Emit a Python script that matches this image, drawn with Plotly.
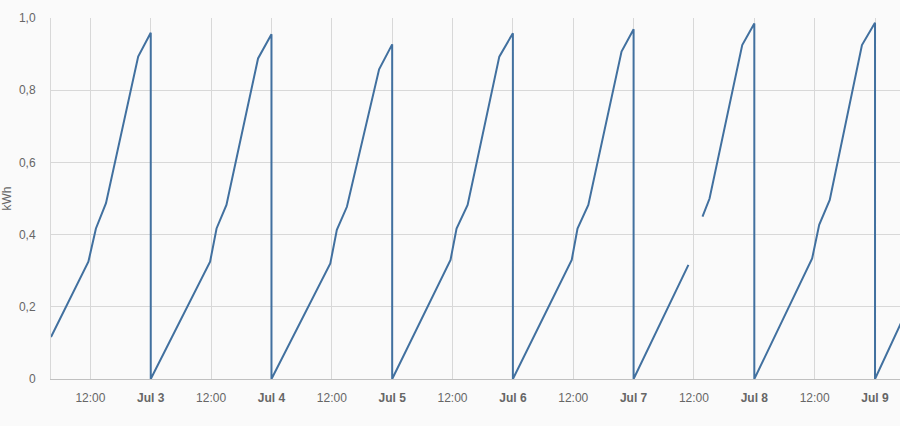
import plotly.graph_objects as go

# --- data ---
times = [
    "2023-07-02 04:10", "2023-07-02 11:36", "2023-07-02 13:06", "2023-07-02 15:06", "2023-07-02 21:30", "2023-07-03 00:00",
    "2023-07-03 00:00", "2023-07-03 11:48", "2023-07-03 13:05", "2023-07-03 15:03", "2023-07-03 21:20", "2023-07-04 00:00",
    "2023-07-04 00:00", "2023-07-04 11:42", "2023-07-04 13:00", "2023-07-04 15:00", "2023-07-04 21:24", "2023-07-05 00:00",
    "2023-07-05 00:00", "2023-07-05 11:36", "2023-07-05 12:48", "2023-07-05 15:00", "2023-07-05 21:18", "2023-07-06 00:00",
    "2023-07-06 00:00", "2023-07-06 11:42", "2023-07-06 12:51", "2023-07-06 15:00", "2023-07-06 21:36", "2023-07-07 00:00",
    "2023-07-07 00:00", "2023-07-07 10:54", "2023-07-07 12:00", "2023-07-07 13:42", "2023-07-07 15:06", "2023-07-07 21:36", "2023-07-08 00:00",
    "2023-07-08 00:00", "2023-07-08 11:30", "2023-07-08 12:54", "2023-07-08 15:00", "2023-07-08 21:24", "2023-07-09 00:00",
    "2023-07-09 00:00", "2023-07-09 06:00",
]
energy_kwh = [
    0.116, 0.325, 0.417, 0.487, 0.893, 0.959,
    0.0, 0.325, 0.417, 0.482, 0.888, 0.955,
    0.0, 0.320, 0.413, 0.477, 0.858, 0.927,
    0.0, 0.330, 0.417, 0.482, 0.893, 0.958,
    0.0, 0.330, 0.417, 0.482, 0.907, 0.969,
    0.0, 0.316, None, 0.450, 0.500, 0.925, 0.985,
    0.0, 0.334, 0.427, 0.496, 0.925, 0.987,
    0.0, 0.180,
]

x_tick_vals = [
    "2023-07-02 12:00", "2023-07-03 00:00", "2023-07-03 12:00", "2023-07-04 00:00",
    "2023-07-04 12:00", "2023-07-05 00:00", "2023-07-05 12:00", "2023-07-06 00:00",
    "2023-07-06 12:00", "2023-07-07 00:00", "2023-07-07 12:00", "2023-07-08 00:00",
    "2023-07-08 12:00", "2023-07-09 00:00",
]
x_tick_text = [
    "12:00", "<b>Jul 3</b>", "12:00", "<b>Jul 4</b>", "12:00", "<b>Jul 5</b>", "12:00",
    "<b>Jul 6</b>", "12:00", "<b>Jul 7</b>", "12:00", "<b>Jul 8</b>", "12:00", "<b>Jul 9</b>",
]
y_tick_vals = [0, 0.2, 0.4, 0.6, 0.8, 1.0]
y_tick_text = ["0", "0,2", "0,4", "0,6", "0,8", "1,0"]

x_range = ["2023-07-02 04:10", "2023-07-09 04:58"]

fig = go.Figure()
fig.add_trace(go.Scatter(
    x=times, y=energy_kwh, mode="lines",
    line=dict(color="#41709f", width=2),
    connectgaps=False, hoverinfo="skip", showlegend=False,
))

font_family = "Liberation Sans, Arial, sans-serif"
fig.update_layout(
    width=900, height=426,
    margin=dict(l=51, r=0, t=18, b=47, autoexpand=False),
    paper_bgcolor="#fafafa", plot_bgcolor="#fafafa",
    font=dict(family=font_family, size=12, color="#666666"),
    showlegend=False,
)
fig.update_xaxes(
    type="date", range=x_range, automargin=False,
    tickmode="array", tickvals=x_tick_vals, ticktext=x_tick_text,
    showgrid=True, gridcolor="#d8d8d8", gridwidth=1,
    showline=True, linecolor="#c0c0c0", linewidth=1,
    ticks="", ticklabelstandoff=8,
    tickfont=dict(size=12, color="#666666"),
    zeroline=False,
)
fig.update_yaxes(
    range=[0, 1.0], automargin=False,
    tickmode="array", tickvals=y_tick_vals, ticktext=y_tick_text,
    showgrid=True, gridcolor="#d8d8d8", gridwidth=1,
    showline=True, linecolor="#d8d8d8", linewidth=1,
    ticks="", ticklabelstandoff=12,
    tickfont=dict(size=12, color="#666666"),
    zeroline=False,
    title=dict(text="kWh", font=dict(size=12, color="#666666"), standoff=10),
)

fig.write_html(
    "out.html",
    config={"displayModeBar": False},
    post_script="document.body.style.margin='0';document.body.style.background='#fafafa';",
)
